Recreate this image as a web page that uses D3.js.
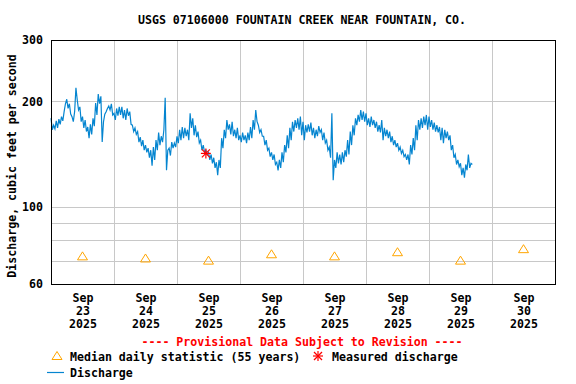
<!DOCTYPE html>
<meta charset="utf-8">
<body style="margin:0;background:#fff">
<script src="https://d3js.org/d3.v7.min.js"></script>
<div id="chart"></div>
<script>

var title = "USGS 07106000 FOUNTAIN CREEK NEAR FOUNTAIN, CO.";
var yLabel = "Discharge, cubic feet per second";
var note = "---- Provisional Data Subject to Revision ----";

// day labels (ticks sit at noon of each day)
var dayMonth = ["Sep", "Sep", "Sep", "Sep", "Sep", "Sep", "Sep", "Sep"];
var dayNum = ["23", "24", "25", "26", "27", "28", "29", "30"];
var dayYear = ["2025", "2025", "2025", "2025", "2025", "2025", "2025", "2025"];

var yTicks = [60, 100, 200, 300];
var yGrid = [70, 80, 90, 100, 200];

// median daily statistic (55 years), one per day
var medianDaily = [72, 71, 70, 73, 72, 74, 70, 75.5];

// measured discharge
var measuredTime = [new Date(2025, 8, 25, 11, 0)];
var measuredValue = [142];

// discharge, cfs, every 30 minutes from Sep 23 00:00
var q23 = [179,166,171,167,176,168,178,172,181,176,187,197,203,191,197,184,181,175,187,219,202,189,193,175,
           181,168,177,164,169,157,172,161,179,170,198,183,210,197,207,153,175,184,187,191,194,189,197,183];
var q24 = [185,177,191,182,193,183,193,179,189,177,191,182,187,172,171,164,168,161,164,153,158,149,155,145,
           150,143,147,138,145,131,148,136,155,145,163,150,159,153,166,205,127,145,147,140,153,147,152,148];
var q25 = [159,152,166,155,169,157,168,159,166,155,185,168,179,160,171,158,164,152,155,145,150,143,145,141,
           143,136,141,133,138,129,134,123,136,129,157,147,166,157,177,166,172,161,175,159,166,157,168,155];
var q26 = [160,153,163,155,160,152,163,155,169,157,177,166,189,175,171,163,166,159,159,150,155,145,147,139,
           143,136,141,132,134,127,136,129,143,134,150,143,160,147,168,155,175,164,177,168,179,166,181,160];
var q27 = [175,155,171,163,172,164,174,160,168,157,166,159,170,163,166,155,163,152,155,145,148,138,185,119,
           136,129,143,133,141,132,143,134,145,139,155,141,164,150,171,160,179,171,183,175,189,177,187,175];
var q28 = [185,171,179,169,181,171,177,168,175,164,171,163,177,155,168,159,166,157,164,153,159,150,155,148,
           152,145,148,142,145,139,141,136,141,132,150,141,157,145,171,155,177,166,179,168,181,171,183,166];
var q29 = [181,169,177,166,174,164,171,163,169,155,168,152,166,157,164,155,160,145,150,138,141,132,136,130,
           133,123,129,121,132,127,141,129,133,132];

var start = new Date(2025, 8, 23, 0, 0);
var stepMs = 30 * 60 * 1000;
var discharge = [].concat(q23, q24, q25, q26, q27, q28, q29).map(function(v, i) {
  return {t: new Date(start.getTime() + i * stepMs), v: v};
});

var W = 576, H = 384;
var plotL = 51, plotR = 555, plotT = 40, plotB = 284;
var font = "'DejaVu Sans Mono', monospace";
var fontSize = "11.6px";

var x = d3.scaleTime()
  .domain([new Date(2025, 8, 23), new Date(2025, 9, 1)])
  .range([plotL, plotR]);

var y = d3.scaleLog()
  .domain([60, 300])
  .range([plotB, plotT]);

var svg = d3.select("#chart").append("svg")
  .attr("width", W)
  .attr("height", H)
  .style("font-family", font)
  .style("font-size", fontSize)
  .style("font-weight", "bold");

// grid
var midnights = d3.range(1, 8).map(function(i) { return new Date(2025, 8, 23 + i); });
svg.append("g").selectAll("line")
  .data(midnights).enter().append("line")
  .attr("x1", function(d) { return Math.round(x(d)) + 0.5; })
  .attr("x2", function(d) { return Math.round(x(d)) + 0.5; })
  .attr("y1", plotT).attr("y2", plotB)
  .attr("stroke", "#c8c8c8");

svg.append("g").selectAll("line")
  .data(yGrid).enter().append("line")
  .attr("x1", plotL).attr("x2", plotR)
  .attr("y1", function(d) { return Math.round(y(d)) + 0.5; })
  .attr("y2", function(d) { return Math.round(y(d)) + 0.5; })
  .attr("stroke", "#c8c8c8");

// discharge line
var line = d3.line()
  .x(function(d) { return x(d.t); })
  .y(function(d) { return y(d.v); });

svg.append("path")
  .datum(discharge)
  .attr("d", line)
  .attr("fill", "none")
  .attr("stroke", "#0585d0")
  .attr("stroke-width", 1.2);

// median triangles
var noons = dayNum.map(function(d, i) { return new Date(2025, 8, 23 + i, 12); });
var triPath = "M0,-4.5L5,3.5L-5,3.5Z";
svg.append("g").selectAll("path")
  .data(medianDaily).enter().append("path")
  .attr("d", triPath)
  .attr("transform", function(d, i) { return "translate(" + x(noons[i]) + "," + y(d) + ")"; })
  .attr("fill", "none")
  .attr("stroke", "#ffa500")
  .attr("stroke-width", 1);

// measured asterisk
function star(g) {
  [[-5, 0, 5, 0], [0, -5, 0, 5], [-4, -4, 4, 4], [-4, 4, 4, -4]].forEach(function(s) {
    g.append("line").attr("x1", s[0]).attr("y1", s[1]).attr("x2", s[2]).attr("y2", s[3])
      .attr("stroke", "#ff0000").attr("stroke-width", 1.2);
  });
}
measuredValue.forEach(function(v, i) {
  svg.append("g")
    .attr("transform", "translate(" + x(measuredTime[i]) + "," + y(v) + ")")
    .call(star);
});

// frame
svg.append("rect")
  .attr("x", plotL + 0.5).attr("y", plotT + 0.5)
  .attr("width", plotR - plotL).attr("height", plotB - plotT)
  .attr("fill", "none")
  .attr("stroke", "#000");

// y axis
var yAxis = svg.append("g")
  .attr("transform", "translate(" + plotL + ",0)")
  .call(d3.axisLeft(y).tickValues(yTicks).tickFormat(d3.format("d")).tickSize(0).tickPadding(8));
yAxis.select(".domain").remove();
yAxis.selectAll("text")
  .attr("fill", "#000")
  .style("font-family", font).style("font-size", fontSize).style("font-weight", "bold");

// x axis with three-line labels
var xAxis = svg.append("g")
  .attr("transform", "translate(0," + plotB + ")")
  .call(d3.axisBottom(x).tickValues(noons).tickSize(0).tickFormat(""));
xAxis.select(".domain").remove();
xAxis.selectAll(".tick text").each(function(d, i) {
  var t = d3.select(this).attr("y", 0).attr("dy", null)
    .attr("fill", "#000")
    .style("font-family", font).style("font-size", fontSize).style("font-weight", "bold");
  [dayMonth[i], dayNum[i], dayYear[i]].forEach(function(s, k) {
    t.append("tspan").attr("x", 0).attr("y", 18 + k * 13).text(s);
  });
});

// title
svg.append("text")
  .attr("x", 302).attr("y", 24)
  .attr("text-anchor", "middle")
  .text(title);

// y label
svg.append("text")
  .attr("transform", "translate(16,166) rotate(-90)")
  .attr("text-anchor", "middle")
  .text(yLabel);

// provisional note
svg.append("text")
  .attr("x", 302).attr("y", 346)
  .attr("text-anchor", "middle")
  .attr("fill", "#ff0000")
  .text(note);

// legend
svg.append("path")
  .attr("d", triPath)
  .attr("transform", "translate(57,356)")
  .attr("fill", "none")
  .attr("stroke", "#ffa500");
svg.append("text").attr("x", 70).attr("y", 361).text("Median daily statistic (55 years)");

svg.append("g").attr("transform", "translate(318,356)").call(star);
svg.append("text").attr("x", 332).attr("y", 361).text("Measured discharge");

svg.append("line")
  .attr("x1", 47).attr("x2", 64).attr("y1", 372.5).attr("y2", 372.5)
  .attr("stroke", "#0585d0").attr("stroke-width", 1.2);
svg.append("text").attr("x", 70).attr("y", 377).text("Discharge");

</script>
</body>
